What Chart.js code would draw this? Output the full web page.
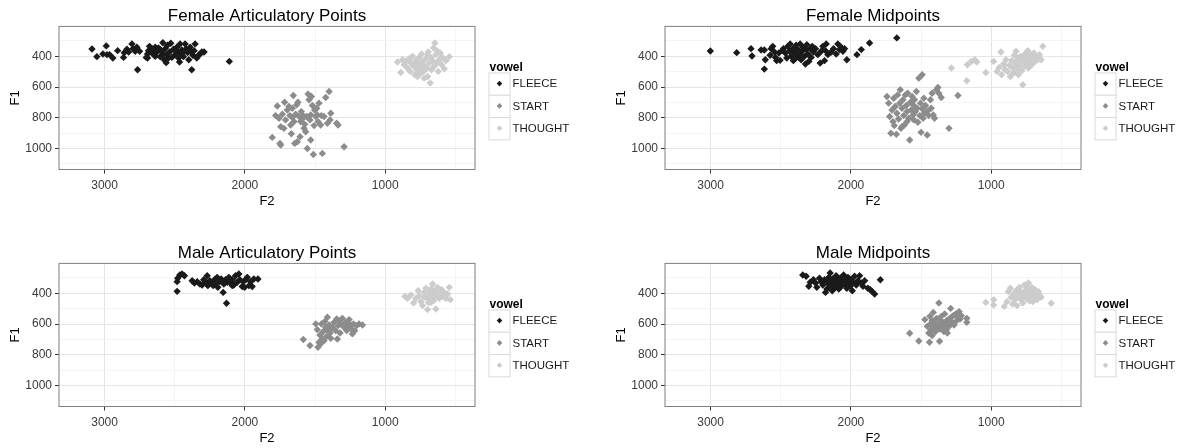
<!DOCTYPE html>
<html>
<head>
<meta charset="utf-8">
<script src="https://cdn.jsdelivr.net/npm/chart.js@4.4.0/dist/chart.umd.min.js"></script>
<style>
  body { margin: 0; background: #fff; width: 1179px; height: 448px; position: relative; overflow: hidden; }
  .panel { position: absolute; width: 573px; height: 237px; }
</style>
</head>
<body>
<div class="panel" style="left:0;top:0"><canvas id="femArt" width="573" height="237"></canvas></div>
<div class="panel" style="left:606px;top:0"><canvas id="femMid" width="573" height="237"></canvas></div>
<div class="panel" style="left:0;top:237px"><canvas id="maleArt" width="573" height="237"></canvas></div>
<div class="panel" style="left:606px;top:237px"><canvas id="maleMid" width="573" height="237"></canvas></div>
<script>
// vowel categories and colours (grey scale)
const vowels = ['FLEECE', 'START', 'THOUGHT'];
const vowelColors = ['#1a1a1a', '#8c8c8c', '#cccccc'];

// axis ticks: F2 reversed on x, F1 reversed on y
const f2Ticks = [500, 1000, 1500, 2000, 2500, 3000];
const f2Labels = [1000, 2000, 3000];
const f1Ticks = [300, 400, 500, 600, 700, 800, 900, 1000, 1100];
const f1Labels = [400, 600, 800, 1000];
const F2_MIN = 360, F2_MAX = 3325;
const F1_MIN = 205, F1_MAX = 1137;

// [F2, F1] pairs
const femArtFleece = [[3090,352],[3055,402],[3012,385],[2988,332],[2983,389],[2964,389],[2941,411],[2907,363],[2865,407],[2860,376],[2841,354],[2829,372],[2805,319],[2798,350],[2782,367],[2770,341],[2765,487],[2751,367],[2703,407],[2694,385],[2687,363],[2680,335],[2670,367],[2663,350],[2651,389],[2639,341],[2628,372],[2616,345],[2604,402],[2592,372],[2585,311],[2575,422],[2568,350],[2561,441],[2556,389],[2552,328],[2537,372],[2528,315],[2521,407],[2509,354],[2497,389],[2485,341],[2473,372],[2466,437],[2462,319],[2450,359],[2438,402],[2426,319],[2419,350],[2409,376],[2400,422],[2390,341],[2379,487],[2371,393],[2362,363],[2355,319],[2343,411],[2331,393],[2319,385],[2307,372],[2291,372],[2111,433],[2694,411],[2639,400],[2604,356],[2580,385],[2545,411],[2497,356],[2462,385],[2433,367],[2386,367],[2651,356],[2473,411]];
const femArtStart = [[1805,928],[1769,723],[1750,967],[1745,978],[1781,786],[1757,803],[1745,858],[1733,777],[1717,699],[1710,814],[1698,749],[1686,727],[1679,786],[1674,847],[1669,904],[1662,799],[1655,655],[1650,825],[1645,967],[1638,777],[1631,716],[1626,956],[1622,699],[1614,792],[1607,923],[1603,825],[1598,760],[1591,808],[1584,786],[1579,869],[1574,843],[1567,891],[1560,792],[1555,1000],[1550,646],[1543,683],[1536,814],[1531,945],[1526,662],[1519,720],[1512,1039],[1507,851],[1503,749],[1495,792],[1488,738],[1479,825],[1472,705],[1460,847],[1455,786],[1448,1032],[1436,792],[1424,668],[1412,836],[1400,629],[1393,814],[1346,836],[1336,847],[1293,989],[1388,771],[1662,738],[1722,869],[1531,781],[1484,781]];
const femArtThought = [[912,437],[889,505],[877,422],[865,455],[853,433],[841,476],[829,415],[822,498],[817,444],[805,400],[798,465],[789,520],[781,428],[774,487],[765,450],[758,407],[750,472],[746,509],[741,385],[734,433],[727,498],[722,459],[710,415],[703,476],[698,531],[693,372],[686,444],[679,574],[674,407],[670,487],[662,428],[655,346],[651,465],[646,313],[639,389],[632,444],[627,367],[622,498],[615,422],[608,378],[598,455],[591,407],[579,481],[567,428],[543,402],[770,531],[722,542],[793,455],[698,389]];

const femMidFleece = [[3002,365],[2814,376],[2712,350],[2705,398],[2640,359],[2617,359],[2617,483],[2610,422],[2576,393],[2569,350],[2557,335],[2545,372],[2538,407],[2529,428],[2514,378],[2505,426],[2490,363],[2481,350],[2467,378],[2457,411],[2450,335],[2438,367],[2433,319],[2426,400],[2414,350],[2410,428],[2402,378],[2390,328],[2386,407],[2379,356],[2367,389],[2362,319],[2355,422],[2348,367],[2343,341],[2331,400],[2324,450],[2319,356],[2314,324],[2307,385],[2300,433],[2290,350],[2283,407],[2276,335],[2267,372],[2252,350],[2236,389],[2219,444],[2212,367],[2200,335],[2188,428],[2181,363],[2176,319],[2164,389],[2140,372],[2124,350],[2105,385],[2093,319],[2081,356],[2069,341],[2057,367],[2045,350],[2029,422],[1957,389],[1926,356],[1867,313],[1673,280]];
const femMidStart = [[1743,662],[1731,705],[1724,792],[1715,901],[1707,749],[1700,825],[1695,673],[1691,851],[1684,727],[1676,908],[1672,771],[1667,651],[1660,808],[1652,705],[1648,618],[1643,869],[1636,738],[1629,683],[1624,786],[1619,847],[1612,651],[1605,720],[1600,760],[1595,640],[1588,803],[1581,945],[1576,699],[1571,749],[1564,662],[1557,782],[1552,720],[1547,683],[1540,760],[1533,629],[1528,738],[1523,829],[1516,542],[1509,786],[1504,705],[1500,895],[1492,520],[1492,742],[1485,803],[1480,673],[1476,771],[1468,720],[1456,912],[1452,755],[1445,786],[1433,683],[1428,738],[1421,640],[1413,782],[1404,803],[1390,618],[1380,603],[1373,640],[1356,668],[1301,869],[1237,655],[1636,858],[1600,825],[1552,814]];
const femMidThought = [[1284,476],[1174,559],[1170,455],[1141,433],[1117,422],[1103,437],[1038,505],[983,433],[959,498],[943,472],[931,372],[926,520],[912,450],[902,487],[895,422],[883,498],[871,459],[864,531],[854,428],[847,476],[840,509],[835,393],[830,444],[823,367],[816,487],[811,415],[806,520],[799,459],[792,400],[787,433],[783,494],[775,585],[768,422],[763,465],[759,385],[751,444],[744,407],[739,363],[735,476],[728,428],[720,389],[711,455],[704,411],[696,378],[687,433],[680,400],[668,422],[656,389],[644,422],[632,335],[811,465],[907,455],[739,444]];

const maleArtFleece = [[2483,387],[2483,324],[2479,302],[2464,281],[2448,274],[2431,285],[2376,318],[2360,333],[2340,324],[2321,339],[2305,346],[2293,311],[2281,328],[2269,285],[2264,350],[2250,318],[2240,333],[2226,350],[2217,311],[2210,339],[2198,296],[2193,361],[2179,324],[2169,307],[2155,394],[2150,339],[2138,311],[2131,465],[2126,328],[2114,296],[2102,333],[2090,311],[2079,346],[2067,285],[2055,328],[2043,274],[2036,311],[2019,355],[2012,324],[2002,361],[1995,311],[1983,296],[1971,350],[1960,324],[1948,355],[1936,307],[1907,307],[2221,333],[2269,339],[2090,350]];
const maleArtStart = [[1584,701],[1536,740],[1495,599],[1484,636],[1479,751],[1472,719],[1465,671],[1455,599],[1448,697],[1441,649],[1431,584],[1424,621],[1417,680],[1412,556],[1407,643],[1400,606],[1393,658],[1388,693],[1376,621],[1365,589],[1353,643],[1346,567],[1336,610],[1329,578],[1322,658],[1317,599],[1305,563],[1293,621],[1281,589],[1274,643],[1265,610],[1257,571],[1246,606],[1241,632],[1234,664],[1226,599],[1217,643],[1203,610],[1186,599],[1162,606],[1460,729],[1436,708],[1388,632],[1341,697]];
const maleArtThought = [[860,420],[841,433],[817,411],[798,463],[781,433],[765,383],[758,415],[746,454],[734,480],[722,394],[710,367],[703,426],[698,506],[693,459],[686,394],[679,437],[674,372],[670,411],[662,339],[655,448],[651,383],[646,420],[639,502],[632,394],[627,361],[615,433],[608,404],[598,376],[591,420],[579,394],[567,433],[555,404],[543,361],[536,441],[674,459],[722,426]];

const maleMidFleece = [[2343,281],[2319,289],[2300,354],[2290,328],[2267,311],[2252,333],[2243,361],[2224,302],[2212,324],[2200,346],[2188,311],[2181,394],[2171,372],[2164,333],[2157,296],[2152,354],[2148,268],[2140,324],[2133,383],[2129,307],[2124,346],[2117,367],[2110,318],[2105,285],[2100,339],[2093,311],[2086,372],[2081,333],[2076,302],[2069,354],[2062,324],[2052,281],[2045,339],[2038,311],[2029,367],[2021,296],[2014,333],[2005,354],[1998,311],[1990,383],[1986,328],[1974,289],[1962,346],[1950,318],[1938,285],[1926,333],[1914,354],[1902,318],[1879,367],[1862,376],[1848,389],[1831,404],[1790,311],[2081,361],[2129,328]];
const maleMidStart = [[1581,660],[1516,710],[1473,571],[1456,615],[1445,658],[1440,719],[1437,550],[1433,599],[1428,636],[1421,578],[1413,524],[1409,621],[1404,589],[1397,649],[1390,563],[1380,606],[1373,463],[1368,712],[1366,632],[1361,578],[1356,550],[1349,610],[1342,589],[1337,649],[1332,534],[1325,621],[1318,578],[1313,658],[1308,599],[1301,567],[1294,610],[1289,498],[1284,556],[1277,589],[1270,545],[1265,606],[1253,534],[1246,578],[1237,556],[1229,519],[1222,567],[1213,545],[1174,589],[1174,563],[1318,636],[1385,632],[1421,675]];
const maleMidThought = [[1038,459],[983,441],[983,476],[907,485],[888,454],[878,389],[864,367],[859,426],[847,469],[840,404],[830,441],[823,383],[816,480],[811,411],[799,361],[792,437],[787,394],[775,463],[768,420],[763,346],[759,383],[751,433],[744,367],[739,404],[735,333],[728,448],[720,383],[716,415],[711,361],[704,454],[696,394],[692,426],[687,376],[680,415],[673,441],[663,389],[656,411],[644,426],[572,465],[835,415],[739,426]];

Chart.defaults.font.family = '"Liberation Sans", Arial, sans-serif';

// ggplot-style frame round the panel
const panelBorder = {
  id: 'panelBorder',
  afterDraw(chart) {
    const { ctx, chartArea: a } = chart;
    ctx.save();
    ctx.strokeStyle = '#7f7f7f';
    ctx.lineWidth = 1;
    ctx.strokeRect(a.left, a.top, a.right - a.left, a.bottom - a.top);
    ctx.restore();
  }
};

// legend with a title and boxed keys, right of the panel
const vowelLegend = {
  id: 'vowelLegend',
  afterDraw(chart) {
    const { ctx, chartArea: a } = chart;
    const x0 = a.right + 13.5;
    const top = (a.top + a.bottom) / 2 - 37.5;
    const keyH = 22.3;
    ctx.save();
    ctx.textAlign = 'left';
    ctx.textBaseline = 'middle';
    ctx.fillStyle = '#000';
    ctx.font = 'bold 12px "Liberation Sans", Arial, sans-serif';
    ctx.fillText('vowel', x0 + 1, top + 7);
    chart.data.datasets.forEach((ds, i) => {
      const ky = top + 12 + i * keyH;
      ctx.fillStyle = '#fff';
      ctx.fillRect(x0, ky, 22, keyH);
      ctx.strokeStyle = '#d9d9d9';
      ctx.lineWidth = 1;
      ctx.strokeRect(x0 + 0.5, ky + 0.5, 21, keyH);
      ctx.fillStyle = ds.backgroundColor;
      Chart.helpers.drawPoint(ctx, { pointStyle: 'rectRot', radius: 2.8, borderWidth: 0, rotation: 0 }, x0 + 11, ky + keyH / 2);
      ctx.fillStyle = '#1a1a1a';
      ctx.font = '11.5px "Liberation Sans", Arial, sans-serif';
      ctx.fillText(ds.label, x0 + 24, ky + keyH / 2 + 0.5);
    });
    ctx.restore();
  }
};

function makePanel(canvasId, title, series) {
  const ctx = document.getElementById(canvasId);
  return new Chart(ctx, {
    type: 'scatter',
    data: {
      datasets: vowels.map((v, i) => ({
        label: v,
        data: series[i].map(([f2, f1]) => ({ x: f2, y: f1 })),
        backgroundColor: vowelColors[i],
        borderWidth: 0,
        pointStyle: 'rectRot',
        pointRadius: 3.7,
        pointHoverRadius: 3.7
      }))
    },
    options: {
      responsive: false,
      animation: false,
      events: [],
      layout: { padding: { left: 0, right: 98, top: 0, bottom: 0 } },
      scales: {
        x: {
          type: 'linear',
          reverse: true,
          min: F2_MIN,
          max: F2_MAX,
          afterBuildTicks: s => { s.ticks = f2Ticks.map(v => ({ value: v })); },
          afterFit: s => { s.height = 67.5; },
          ticks: {
            autoSkip: false, maxRotation: 0, padding: 5,
            color: '#3a3a3a', font: { size: 12 },
            callback: v => f2Labels.includes(v) ? String(v) : ''
          },
          grid: {
            color: c => f2Labels.includes(c.tick.value) ? '#e5e5e5' : '#f4f4f4',
            tickColor: c => f2Labels.includes(c.tick.value) ? '#333' : 'rgba(0,0,0,0)',
            tickLength: 4
          },
          border: { display: false },
          title: { display: true, text: 'F2', color: '#000', font: { size: 13 }, padding: { top: 0, bottom: 28 } }
        },
        y: {
          type: 'linear',
          reverse: true,
          min: F1_MIN,
          max: F1_MAX,
          afterBuildTicks: s => { s.ticks = f1Ticks.map(v => ({ value: v })); },
          afterFit: s => { s.width = 59; },
          ticks: {
            autoSkip: false, padding: 3,
            color: '#3a3a3a', font: { size: 12 },
            callback: v => f1Labels.includes(v) ? String(v) : ''
          },
          grid: {
            color: c => f1Labels.includes(c.tick.value) ? '#e5e5e5' : '#f4f4f4',
            tickColor: c => f1Labels.includes(c.tick.value) ? '#333' : 'rgba(0,0,0,0)',
            tickLength: 4
          },
          border: { display: false },
          title: { display: true, text: 'F1', color: '#000', font: { size: 13 }, padding: { top: 8, bottom: 0 } }
        }
      },
      plugins: {
        legend: { display: false },
        tooltip: { enabled: false },
        title: {
          display: true, text: title, fullSize: false,
          color: '#000', font: { size: 17, weight: 'normal' },
          padding: { top: 6, bottom: 0 }
        }
      }
    },
    plugins: [panelBorder, vowelLegend]
  });
}

makePanel('femArt', 'Female Articulatory Points', [femArtFleece, femArtStart, femArtThought]);
makePanel('femMid', 'Female Midpoints', [femMidFleece, femMidStart, femMidThought]);
makePanel('maleArt', 'Male Articulatory Points', [maleArtFleece, maleArtStart, maleArtThought]);
makePanel('maleMid', 'Male Midpoints', [maleMidFleece, maleMidStart, maleMidThought]);
</script>
</body>
</html>
